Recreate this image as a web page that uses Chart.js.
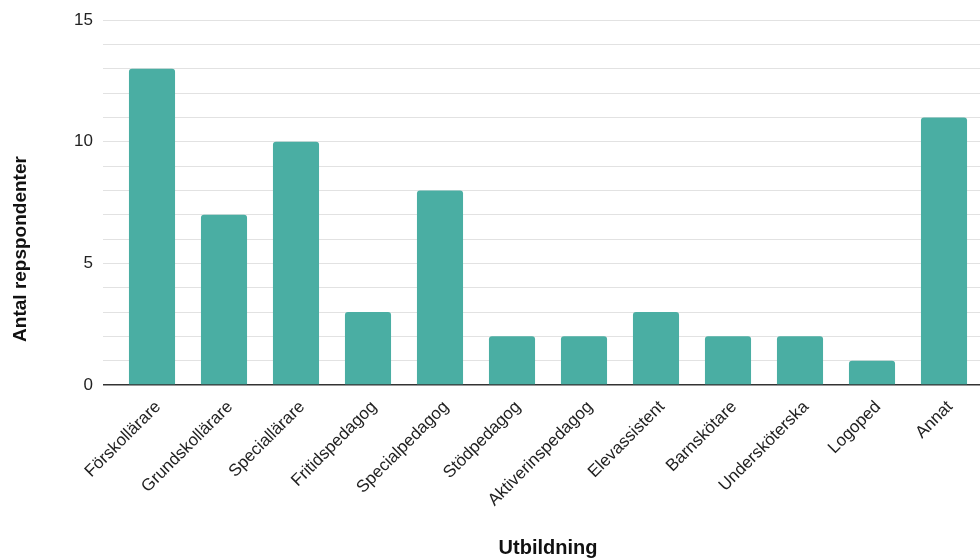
<!DOCTYPE html>
<html><head><meta charset="utf-8">
<script src="https://cdn.jsdelivr.net/npm/chart.js@4/dist/chart.umd.min.js"></script>
<style>html,body{margin:0;padding:0;background:#fff}#wrap{width:980px;height:560px}</style>
</head><body><div id="wrap"><canvas id="c" width="980" height="560"></canvas></div>
<script>
const categories = ["Förskollärare","Grundskollärare","Speciallärare","Fritidspedagog","Specialpedagog","Stödpedagog","Aktiverinspedagog","Elevassistent","Barnskötare","Undersköterska","Logoped","Annat"];
const respondents = [13,7,10,3,8,2,2,3,2,2,1,11];
const yTickLabels = {0:"0",5:"5",10:"10",15:"15"};
const xTitle = "Utbildning";
const yTitle = "Antal repspondenter";
const FONT = 'Liberation Sans, Arial, sans-serif';

const yTitlePlugin = {
  id: 'yTitle',
  afterDraw(chart) {
    const ctx = chart.ctx;
    ctx.save();
    ctx.translate(21, 249);
    ctx.rotate(-Math.PI / 2);
    ctx.font = 'bold 19px ' + FONT;
    ctx.fillStyle = '#111';
    ctx.textAlign = 'center';
    ctx.textBaseline = 'middle';
    ctx.fillText(yTitle, 0, 0);
    ctx.restore();
  }
};

new Chart(document.getElementById('c'), {
  type: 'bar',
  data: { labels: categories, datasets: [{ data: respondents, backgroundColor: '#4aaea3', borderRadius: {topLeft:3, topRight:3, bottomLeft:0, bottomRight:0}, borderSkipped: 'bottom', barPercentage: 0.64, categoryPercentage: 1 }] },
  plugins: [yTitlePlugin],
  options: {
    responsive: false, animation: false,
    layout: { padding: { top: 14, right: 0, bottom: 0, left: 0 } },
    plugins: { legend: { display: false }, tooltip: { enabled: false } },
    scales: {
      x: {
        grid: { display: false, drawTicks: false },
        border: { display: false },
        ticks: { color: '#222', font: { family: FONT, size: 17 }, maxRotation: 45, minRotation: 45, padding: 12, labelOffset: 6, autoSkip: false },
        title: { display: true, text: xTitle, color: '#111', font: { family: FONT, size: 20, weight: 'bold' }, padding: { top: 0, bottom: 0 } },
        afterFit: s => { s.height = 175; }
      },
      y: {
        min: 0, max: 15,
        grid: {
          color: ctx => ctx.tick && ctx.tick.value === 0 ? '#333' : '#e2e2e2',
          tickColor: ctx => ctx.tick && ctx.tick.value === 0 ? '#333' : '#e2e2e2',
          lineWidth: ctx => ctx.tick && ctx.tick.value === 0 ? 1.5 : 1,
          drawTicks: true, tickLength: 13
        },
        border: { display: false },
        ticks: { stepSize: 1, autoSkip: false, color: '#222', padding: 10, font: { family: FONT, size: 17 }, callback: v => yTickLabels[v] !== undefined ? yTickLabels[v] : '' },
        title: { display: false },
        afterFit: s => { s.width = 116; }
      }
    }
  }
});
</script></body></html>
